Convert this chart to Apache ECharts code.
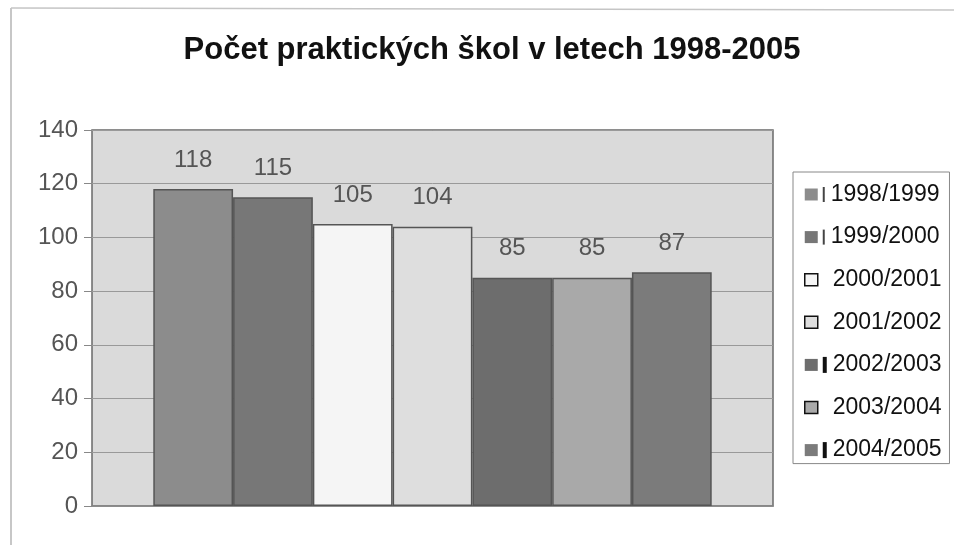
<!DOCTYPE html>
<html>
<head>
<meta charset="utf-8">
<script src="https://cdn.jsdelivr.net/npm/echarts@6/dist/echarts.min.js"></script>
<style>html,body{margin:0;padding:0;background:#fff}#c{width:954px;height:545px}</style>
</head>
<body>
<div id="c"></div>
<script>
const titleText = 'Počet praktických škol v letech 1998-2005';
const seriesNames = ['1998/1999','1999/2000','2000/2001','2001/2002','2002/2003','2003/2004','2004/2005'];
const seriesValues = [118, 115, 105, 104, 85, 85, 87];
const yTicks = [0, 20, 40, 60, 80, 100, 120, 140];
const barColors = ['#8c8c8c','#777777','#f5f5f5','#dedede','#6d6d6d','#a9a9a9','#7b7b7b'];
const legendBorders = ['#8c8c8c','#777777','#111111','#111111','#6d6d6d','#111111','#7b7b7b'];
const legendMarks = ['thin','thin','none','none','thick','none','thick'];

const chart = echarts.init(document.getElementById('c'));
const font = '"Liberation Sans", Arial, sans-serif';
chart.setOption({
  animation: false,
  backgroundColor: '#ffffff',
  title: {
    text: titleText, left: 487, top: 30, textAlign: 'center',
    textStyle: {fontFamily: font, fontWeight: 'bold', fontSize: 31, color: '#111'}
  },
  graphic: [
    {type: 'line', shape: {x1: 11, y1: 8, x2: 11, y2: 545}, style: {stroke: '#b5b5b5', lineWidth: 1.5}},
    {type: 'line', shape: {x1: 11, y1: 8, x2: 954, y2: 10}, style: {stroke: '#c5c5c5', lineWidth: 1.5}}
  ],
  grid: {
    left: 92, right: 181, top: 130, bottom: 39,
    show: true, backgroundColor: '#dadada', borderColor: '#6a6a6a', borderWidth: 1.5
  },
  legend: {
    orient: 'vertical', left: 793, top: 172,
    backgroundColor: '#ffffff', borderColor: '#888', borderWidth: 1,
    padding: [11, 8, 2, 11],
    icon: 'rect',
    itemWidth: 13, itemHeight: 12, itemGap: 19.6,
    formatter: function (name) {
      const m = legendMarks[seriesNames.indexOf(name)];
      if (m === 'thin') return '{thin|}{sp|}{t|' + name + '}';
      if (m === 'thick') return '{thick|}{sp|}{t|' + name + '}';
      return '{sp2|}{t|' + name + '}';
    },
    textStyle: {
      fontFamily: font, fontSize: 23, lineHeight: 22, color: '#111',
      rich: {
        t: {fontFamily: font, fontSize: 23, lineHeight: 22, color: '#111'},
        thin: {width: 2, height: 15, backgroundColor: '#444'},
        thick: {width: 4, height: 16, backgroundColor: '#111'},
        sp: {width: 6, height: 2},
        sp2: {width: 10, height: 2}
      }
    },
    data: seriesNames.map((n, i) => ({
      name: n,
      itemStyle: {color: barColors[i], borderColor: legendBorders[i], borderWidth: legendBorders[i] === '#111111' ? 1.5 : 0}
    }))
  },
  xAxis: {
    type: 'category', data: [''],
    axisLine: {show: true, lineStyle: {color: '#888', width: 1.5}},
    axisTick: {show: false}, axisLabel: {show: false}
  },
  yAxis: {
    type: 'value', min: yTicks[0], max: yTicks[yTicks.length - 1], interval: 20,
    axisLine: {show: false},
    axisTick: {show: true, length: 8, lineStyle: {color: '#888'}},
    axisLabel: {fontFamily: font, fontSize: 24, color: '#555', margin: 14},
    splitLine: {lineStyle: {color: '#999', width: 1}}
  },
  series: seriesNames.map((n, i) => ({
    name: n, type: 'bar', data: [seriesValues[i]],
    barGap: '0%', barCategoryGap: '18%',
    itemStyle: {color: barColors[i], borderColor: '#555', borderWidth: 1.5},
    label: {show: true, position: 'top', distance: 17, fontFamily: font, fontSize: 24, color: '#555'}
  }))
});
</script>
</body>
</html>
